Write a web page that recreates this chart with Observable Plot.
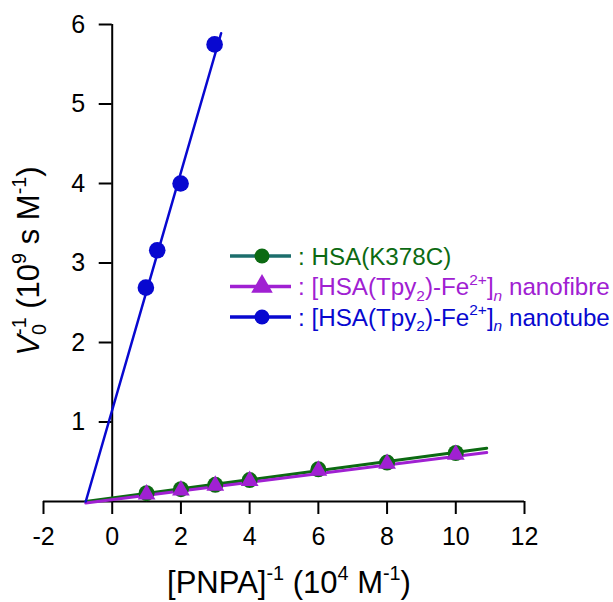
<!DOCTYPE html>
<html>
<head>
<meta charset="utf-8">
<script src="https://cdn.jsdelivr.net/npm/d3@7"></script>
<script src="https://cdn.jsdelivr.net/npm/@observablehq/plot@0.6"></script>
<style>
  html, body { margin: 0; padding: 0; background: #fff; }
  #chart { width: 613px; height: 602px; }
</style>
</head>
<body>
<div id="chart"></div>
<script>
// Lineweaver–Burk plot: reciprocal substrate concentration vs reciprocal initial rate
const pnpaInv = [1, 2, 3, 4, 6, 8, 10];                 // [PNPA]^-1 (10^4 M^-1)
const k378c = [0.105, 0.155, 0.21, 0.27, 0.405, 0.49, 0.61];  // HSA(K378C)
const nanofibre = [0.09, 0.14, 0.20, 0.26, 0.39, 0.475, 0.59]; // [HSA(Tpy2)-Fe2+]n nanofibre
const nanotubeX = [0.98, 1.31, 1.99, 2.98];             // [PNPA]^-1 for nanotube
const nanotube = [2.69, 3.16, 4.0, 5.75];               // [HSA(Tpy2)-Fe2+]n nanotube

// Fitted lines, each from the common x-intercept to its end point
const fitX0 = -0.77;
const fitEndX = [10.9, 10.9, 3.17];
const fitEndY = [0.67, 0.635, 5.89];

const xTicks = [-2, 0, 2, 4, 6, 8, 10, 12];
const yTicks = [1, 2, 3, 4, 5, 6];

const green = "#0c6a12", teal = "#1c6e6c", purple = "#a020d2", blue = "#0808d0";

const fitLines = fitEndX.map((xe, i) => [{x: fitX0, y: 0}, {x: xe, y: fitEndY[i]}]);

const k378cData = pnpaInv.map((x, i) => ({x, y: k378c[i]}));
const fibreData = pnpaInv.map((x, i) => ({x, y: nanofibre[i]}));
const tubeData = nanotubeX.map((x, i) => ({x, y: nanotube[i]}));

const font = "'Liberation Sans', Arial, Helvetica, sans-serif";

const svg = Plot.plot({
  width: 613,
  height: 602,
  marginLeft: 43,
  marginRight: 89,
  marginTop: 24,
  marginBottom: 101,
  style: {fontFamily: font, background: "#fff", color: "#000"},
  x: {domain: [-2, 12]},
  y: {domain: [0, 6]},
  marks: [
    // axes drawn as crossing lines at the origin
    Plot.ruleY([0], {stroke: "#000", strokeWidth: 2}),
    Plot.ruleX([0], {y1: 0, y2: 6, stroke: "#000", strokeWidth: 2}),
    Plot.axisX(xTicks, {anchor: "bottom", tickSize: 13, tickPadding: 13, fontSize: 25,
      strokeWidth: 2, tickFormat: d => String(d), label: null}),
    Plot.axisY(yTicks, {x: 0, anchor: "left", tickSize: 13, tickPadding: 14, fontSize: 25,
      strokeWidth: 2, tickFormat: d => String(d), label: null}),
    // fitted lines
    Plot.line(fitLines[0], {x: "x", y: "y", stroke: green, strokeWidth: 3}),
    Plot.line(fitLines[1], {x: "x", y: "y", stroke: purple, strokeWidth: 3, dy: 1.5}),
    Plot.line(fitLines[2], {x: "x", y: "y", stroke: blue, strokeWidth: 2.5}),
    // measured points
    Plot.dot(k378cData, {x: "x", y: "y", r: 8, fill: green}),
    Plot.dot(fibreData, {x: "x", y: "y", r: 6.6, symbol: "triangle", fill: purple}),
    Plot.dot(tubeData, {x: "x", y: "y", r: 8.3, fill: blue})
  ]
});

document.getElementById("chart").appendChild(svg);

// Text with super/subscripts written as tspans
function richText(sel, parts, size) {
  let cur = 0;
  parts.forEach(p => {
    const small = p.sup || p.sub;
    const fs = small ? size * 0.64 : size;
    const target = p.sup ? -size * 0.42 : p.sub ? size * 0.24 : 0;
    const ts = sel.append("tspan")
      .attr("font-size", fs)
      .attr("dy", target - cur)
      .text(p.t);
    if (p.dx) ts.attr("dx", p.dx);
    if (p.italic) ts.attr("font-style", "italic");
    cur = target;
  });
}

const root = d3.select(svg);
const g = root.append("g").attr("font-family", font).attr("text-anchor", "start");

// x-axis title
richText(g.append("text").attr("x", 289).attr("y", 593).attr("text-anchor", "middle").attr("fill", "#000"),
  [{t: "[PNPA]"}, {t: "-1", sup: true}, {t: " (10"}, {t: "4", sup: true}, {t: " M"}, {t: "-1", sup: true}, {t: ")"}], 31);

// y-axis title
const yFs = 31;
richText(g.append("text").attr("transform", "translate(39,261) rotate(-90)").attr("text-anchor", "middle").attr("fill", "#000"),
  [{t: "V", italic: true}, {t: "0", sub: true}, {t: "-1", sup: true, dx: -yFs * 0.64 * 0.556}, {t: " (10"}, {t: "9", sup: true},
   {t: " s M"}, {t: "-1", sup: true}, {t: ")"}], yFs);

// legend
const legendItems = [
  {line: teal, marker: green, symbol: "circle", color: green,
   parts: [{t: ": HSA(K378C)"}]},
  {line: purple, marker: purple, symbol: "triangle", color: purple,
   parts: [{t: ": [HSA(Tpy"}, {t: "2", sub: true}, {t: ")-Fe"}, {t: "2+", sup: true}, {t: "]"}, {t: "n", sub: true, italic: true}, {t: " nanofibre"}]},
  {line: blue, marker: blue, symbol: "circle", color: blue,
   parts: [{t: ": [HSA(Tpy"}, {t: "2", sub: true}, {t: ")-Fe"}, {t: "2+", sup: true}, {t: "]"}, {t: "n", sub: true, italic: true}, {t: " nanotube"}]}
];
const legendTop = 256, legendStep = 30.5;
legendItems.forEach((item, i) => {
  const cy = legendTop + i * legendStep;
  const row = g.append("g").attr("transform", `translate(0,${cy})`);
  row.append("line").attr("x1", 230).attr("x2", 291).attr("y1", 0).attr("y2", 0)
    .attr("stroke", item.line).attr("stroke-width", 3.5);
  const sym = item.symbol === "circle" ? d3.symbolCircle : d3.symbolTriangle;
  const size = item.symbol === "circle" ? Math.PI * 7.5 * 7.5 : Math.PI * 8 * 8;
  row.append("path").attr("transform", "translate(262,0)")
    .attr("d", d3.symbol(sym, size)()).attr("fill", item.marker);
  richText(row.append("text").attr("x", 298).attr("y", 8.5).attr("text-anchor", "start").attr("fill", item.color), item.parts, 24.2);
});
</script>
</body>
</html>
